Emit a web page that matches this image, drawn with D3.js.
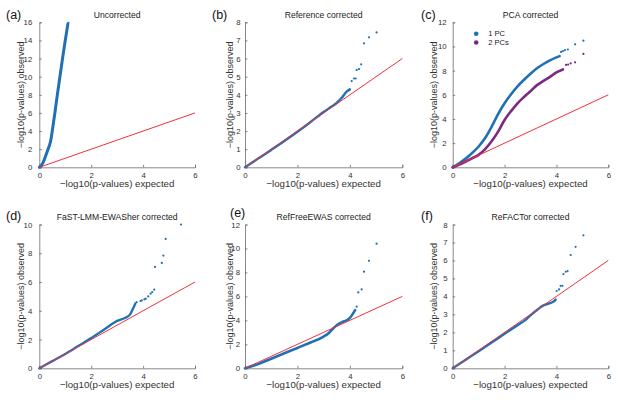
<!DOCTYPE html>
<html><head><meta charset="utf-8">
<script src="https://cdn.jsdelivr.net/npm/d3@7"></script>
<style>body{margin:0;background:#fff}svg{display:block}text{font-family:"Liberation Sans",Arial,sans-serif}</style>
</head><body><svg id="c" width="620" height="400"></svg>
<script>
// ---------- data ----------
const titles = ["Uncorrected","Reference corrected","PCA corrected","FaST-LMM-EWASher corrected","RefFreeEWAS corrected","ReFACTor corrected"];
const letters = ["(a)","(b)","(c)","(d)","(e)","(f)"];
const xTicks = [0,2,4,6];
const yTicksA = [0,2,4,6,8,10,12,14,16];
const yTicksB = [0,1,2,3,4,5,6,7,8];
const yTicksC = [0,2,4,6,8,10,12];
const yTicksD = [0,2,4,6,8,10];
const yTicksE = [0,2,4,6,8,10,12];
const yTicksF = [0,1,2,3,4,5,6,7,8];
const legendLabels = ["1 PC","2 PCs"];

// dense part (expected, observed)
const aExp = [0,0.05,0.1,0.15,0.2,0.25,0.3,0.35,0.4,0.45,0.5,0.6,0.7,0.8,0.9,1.0,1.1];
const aObs = [0,0.1,0.3,0.55,0.9,1.3,1.7,2.1,2.5,3.1,4.0,6.0,8.1,10.1,12.1,14.0,15.8];
const aTailExp = [1.12];
const aTailObs = [15.95];

const bExp = [0,0.5,1,1.5,2,2.5,3,3.3,3.5,3.6,3.7,3.8,3.9,4.0];
const bObs = [0,0.48,0.96,1.45,1.96,2.5,3.05,3.35,3.55,3.7,3.85,4.05,4.2,4.3];
const bTailExp = [4.07,4.16,4.22,4.26,4.35,4.43,4.54,4.73,5.02];
const bTailObs = [4.76,4.9,4.9,5.37,5.42,5.68,6.84,7.17,7.44];

const c1Exp = [0,0.25,0.5,0.75,1,1.25,1.5,1.75,2,2.25,2.5,2.75,3,3.25,3.5,3.75,4,4.12];
const c1Obs = [0,0.33,0.72,1.18,1.72,2.42,3.35,4.4,5.3,6.05,6.7,7.25,7.75,8.2,8.55,8.85,9.1,9.2];
const c1TailExp = [4.18,4.25,4.33,4.44,4.72,5.04];
const c1TailObs = [9.55,9.62,9.7,9.75,10.18,10.48];
const c2Exp = [0,0.25,0.5,0.75,1,1.25,1.5,1.75,2,2.25,2.5,2.75,3,3.25,3.5,3.75,4,4.25];
const c2Obs = [0,0.22,0.48,0.75,1.03,1.5,2.15,2.95,3.92,4.65,5.3,5.82,6.3,6.8,7.15,7.48,7.85,8.1];
const c2TailExp = [4.37,4.45,4.55,4.72,5.04];
const c2TailObs = [8.47,8.5,8.6,8.69,9.38];

const dExp = [0,0.5,1,1.5,2,2.5,3,3.3,3.5,3.6,3.7];
const dObs = [0,0.5,1.0,1.55,2.1,2.7,3.3,3.5,3.75,4.1,4.5];
const dTailExp = [3.75,3.9,3.95,4.05,4.1,4.2,4.29,4.35,4.43,4.46,4.72,4.78,4.87,5.46];
const dTailObs = [4.6,4.68,4.72,4.8,4.84,5.0,5.19,5.3,5.47,7.05,7.33,7.84,9.0,10.0];

const eExp = [0,0.5,1,1.5,2,2.5,3,3.2,3.35,3.5,3.7,3.9,4.0,4.1,4.2];
const eObs = [0,0.35,0.8,1.25,1.7,2.15,2.65,2.95,3.3,3.6,3.85,4.03,4.2,4.5,4.85];
const eTailExp = [4.26,4.32,4.45,4.54,4.73,5.02];
const eTailObs = [5.14,6.33,6.58,8.06,8.97,10.4];

const fExp = [0,0.5,1,1.5,2,2.5,2.8,3,3.3,3.5,3.7,3.9,3.97];
const fObs = [0,0.47,0.95,1.43,1.92,2.4,2.68,2.95,3.3,3.5,3.6,3.72,3.82];
const fTailExp = [4.01,4.1,4.16,4.23,4.27,4.36,4.43,4.55,4.74,5.04];
const fTailObs = [4.3,4.39,4.59,4.59,5.24,5.37,5.41,6.3,6.76,7.4];

const diagonal = [0,6];

// ---------- layout ----------
const BLUE = "#2070b6", PURPLE = "#7b2a82", RED = "#f0313c", AX = "#6a6a6a";
const colX = [[39.3,195],[245,402.3],[452.7,608.3]];
const rowY = [[22.3,167.3],[224.5,368.3]];
const letterPos = [[6,18.8],[212,18.8],[421,18.8],[6,220.3],[230,217.2],[421,220.3]];
const ylabX = [20.5,230.3,433.5,20.5,230.3,433.5];
const yPad = [7,4.5,6,7,5,5];

const zip = (xs, ys) => xs.map((x,i)=>[x, ys[i]]);
const panels = [
  {yTicks:yTicksA, series:[{dense:zip(aExp,aObs), tail:zip(aTailExp,aTailObs), color:BLUE, w:3}]},
  {yTicks:yTicksB, series:[{dense:zip(bExp,bObs), tail:zip(bTailExp,bTailObs), color:BLUE, w:2.4}]},
  {yTicks:yTicksC, series:[{dense:zip(c1Exp,c1Obs), tail:zip(c1TailExp,c1TailObs), color:BLUE, w:2.6},
                           {dense:zip(c2Exp,c2Obs), tail:zip(c2TailExp,c2TailObs), color:PURPLE, w:2.6}], legend:true},
  {yTicks:yTicksD, series:[{dense:zip(dExp,dObs), tail:zip(dTailExp,dTailObs), color:BLUE, w:2.4}]},
  {yTicks:yTicksE, series:[{dense:zip(eExp,eObs), tail:zip(eTailExp,eTailObs), color:BLUE, w:2.6}]},
  {yTicks:yTicksF, series:[{dense:zip(fExp,fObs), tail:zip(fTailExp,fTailObs), color:BLUE, w:2.4}]}
];

const svg = d3.select("#c");
panels.forEach((p, i) => {
  const col = i % 3, row = Math.floor(i / 3);
  const [x0,x1] = colX[col], [yt,yb] = rowY[row];
  const yMax = p.yTicks[p.yTicks.length-1];
  const x = d3.scaleLinear().domain([0,6]).range([x0,x1]);
  const y = d3.scaleLinear().domain([0,yMax]).range([yb,yt]);
  const g = svg.append("g");

  // axes
  const xa = g.append("g").attr("transform",`translate(0,${yb})`)
    .call(d3.axisBottom(x).tickValues(xTicks).tickSize(-2.5).tickPadding(5).tickFormat(d3.format("d")));
  const ya = g.append("g").attr("transform",`translate(${x0},0)`)
    .call(d3.axisLeft(y).tickValues(p.yTicks).tickSize(-2.5).tickPadding(yPad[i]).tickFormat(d3.format("d")));
  [xa,ya].forEach(a=>{
    a.select(".domain").attr("stroke",AX).attr("stroke-width",0.8);
    a.selectAll(".tick line").attr("stroke",AX).attr("stroke-width",0.8);
    a.selectAll(".tick text").attr("fill","#333").style("font-size","7.8px");
  });

  // series
  const line = d3.line().x(d=>x(d[0])).y(d=>y(d[1])).curve(d3.curveMonotoneX);
  p.series.forEach(s=>{
    g.append("path").attr("d", line(s.dense)).attr("fill","none")
      .attr("stroke", s.color).attr("stroke-width", s.w).attr("stroke-linecap","round").attr("stroke-linejoin","round");
    g.selectAll(null).data(s.tail).enter().append("circle")
      .attr("cx", d=>x(d[0])).attr("cy", d=>y(d[1])).attr("r",1.1).attr("fill", s.color);
  });

  // diagonal
  g.append("line").attr("x1",x(diagonal[0])).attr("y1",y(diagonal[0]))
    .attr("x2",x(diagonal[1])).attr("y2",y(diagonal[1]))
    .attr("stroke",RED).attr("stroke-width",1);

  // texts
  g.append("text").attr("x",(x0+x1)/2).attr("y",yt-4.3).attr("text-anchor","middle")
    .style("font-size","8.6px").attr("fill","#222").text(titles[i]);
  g.append("text").attr("x",letterPos[i][0]).attr("y",letterPos[i][1])
    .style("font-size","12.5px").attr("fill","#111").text(letters[i]);
  g.append("text").attr("x",(x0+x1)/2).attr("y",yb+20).attr("text-anchor","middle")
    .style("font-size","9.7px").attr("fill","#333").text("\u2212log10(p-values) expected");
  g.append("text").attr("transform",`translate(${ylabX[i]},${(yt+yb)/2}) rotate(-90)`)
    .attr("text-anchor","middle").attr("dy","0.35em")
    .style("font-size","9px").attr("fill","#333").text("\u2212log10(p-values) observed");

  if (p.legend) {
    const cols = [BLUE, PURPLE];
    legendLabels.forEach((lab,k)=>{
      const ly = yt + 11.5 + k*8.7;
      g.append("circle").attr("cx",x0+23.5).attr("cy",ly).attr("r",2.3).attr("fill",cols[k]);
      g.append("text").attr("x",x0+35.5).attr("y",ly).attr("dy","0.35em")
        .style("font-size","7.6px").attr("fill","#222").text(lab);
    });
  }
});
</script></body></html>
